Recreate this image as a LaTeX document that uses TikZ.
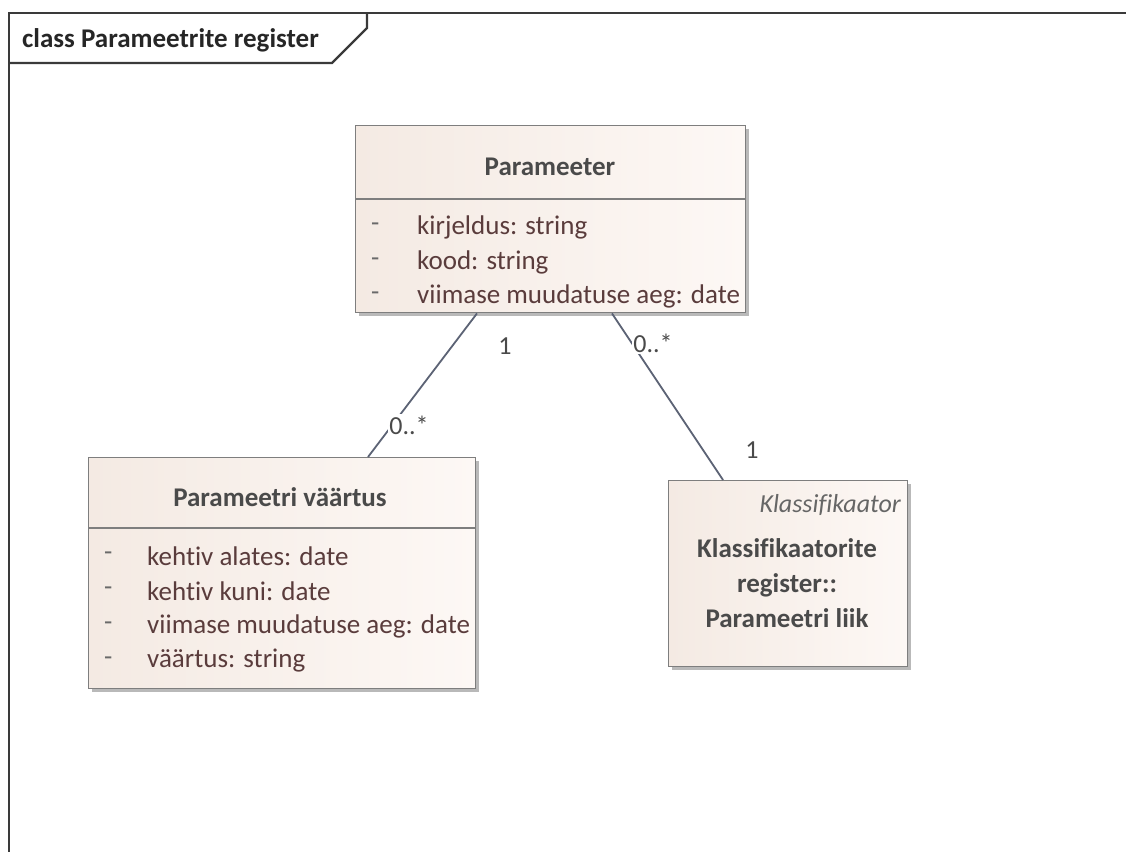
\documentclass[tikz,border=0pt]{standalone}
\usepackage{fontspec}
\setmainfont{Carlito}[Ligatures=NoCommon]
\usetikzlibrary{calc,shadows}

\definecolor{framec}{HTML}{3A3A3A}
\definecolor{boxline}{HTML}{7E7E7E}
\definecolor{fillL}{HTML}{F4EAE3}
\definecolor{fillR}{HTML}{FDF8F5}
\definecolor{namec}{HTML}{4A4A4A}
\definecolor{attrc}{HTML}{5A3C3C}
\definecolor{dashc}{HTML}{6A6A6A}
\definecolor{assocc}{HTML}{5C6375}
\definecolor{shadowc}{HTML}{A8A8A8}

\tikzset{
  frameline/.style={draw=framec, line width=2.2pt},
  classbox/.style={draw=boxline, line width=1.4pt, rectangle, inner sep=0pt,
    anchor=north west, left color=fillL, right color=fillR,
    drop shadow={shadow xshift=3.5pt, shadow yshift=-3.5pt, fill=shadowc, opacity=0.8}},
  sepline/.style={draw=boxline, line width=1.4pt},
  classname/.style={font=\bfseries\fontsize{27}{32}\selectfont, text=namec, inner sep=0pt},
  attr/.style={font=\fontsize{27}{32}\selectfont, text=attrc, anchor=west, inner sep=0pt},
  vis/.style={font=\fontsize{27}{32}\selectfont, text=dashc, anchor=west, inner sep=0pt},
  assoc/.style={draw=assocc, line width=1.8pt},
  mult/.style={font=\fontsize{26}{30}\selectfont, text=namec, inner sep=1.5pt},
}

\begin{document}
\begin{tikzpicture}[x=1pt,y=-1pt]
\useasboundingbox (0,0) rectangle (1126,851);
\fill[white] (0,0) rectangle (1126,851);
\clip (0,0) rectangle (1126,851);

% diagram frame and its name tab
\draw[frameline] (9,900) -- (9,13) -- (1140,13);
\draw[frameline] (9,63) -- (332,63) -- (367,28) -- (367,13);
\node[anchor=west, inner sep=0pt, font=\bfseries\fontsize{27}{32}\selectfont, text=black!85] (title) at (22,40) {class Parameetrite register};

% class: Parameeter
\node[classbox, minimum width=390pt, minimum height=187pt] (pm) at (355,125) {};
\draw[sepline] ($(pm.north west)+(0,74)$) -- ($(pm.north east)+(0,74)$);
\node[classname] (pmname) at (550,167) {Parameeter};
\node[vis] (pmv1) at (371,227) {-};
\node[vis] (pmv2) at (371,262) {-};
\node[vis] (pmv3) at (371,296) {-};
\node[attr] (pma1) at (417,227) {kirjeldus: string};
\node[attr] (pma2) at (417,262) {kood: string};
\node[attr] (pma3) at (417,296) {viimase muudatuse aeg: date};

% class: Parameetri väärtus
\node[classbox, minimum width=387pt, minimum height=231pt] (pv) at (88,457) {};
\draw[sepline] ($(pv.north west)+(0,71)$) -- ($(pv.north east)+(0,71)$);
\node[classname] (pvname) at (280,497) {Parameetri väärtus};
\node[vis] (pvv1) at (104,556) {-};
\node[vis] (pvv2) at (104,591) {-};
\node[vis] (pvv3) at (104,626) {-};
\node[vis] (pvv4) at (104,661) {-};
\node[attr] (pva1) at (147,556) {kehtiv alates: date};
\node[attr] (pva2) at (147,591) {kehtiv kuni: date};
\node[attr] (pva3) at (147,626) {viimase muudatuse aeg: date};
\node[attr] (pva4) at (147,661) {väärtus: string};

% classifier reference
\node[classbox, minimum width=239pt, minimum height=186pt] (kl) at (668,480) {};
\node[anchor=east, inner sep=0pt, font=\itshape\fontsize{26}{30}\selectfont, text=black!60] (klst) at (901,505) {Klassifikaator};
\node[classname, align=center, font=\bfseries\fontsize{27}{35}\selectfont] (klname) at (787,583) {Klassifikaatorite\\register::\\Parameetri liik};

% associations
\draw[assoc] ($(pm.south west)+(122,0)$) -- ($(pv.north west)+(280,0)$);
\draw[assoc] ($(pm.south west)+(257,0)$) -- ($(kl.north west)+(55,0)$);

% multiplicities
\node[mult, fill=white] (m1) at (409,425) {0..*};
\node[mult] (m2) at (505,346) {1};
\node[mult, fill=white] (m3) at (653,343) {0..*};
\node[mult] (m4) at (752,450) {1};
\end{tikzpicture}
\end{document}
